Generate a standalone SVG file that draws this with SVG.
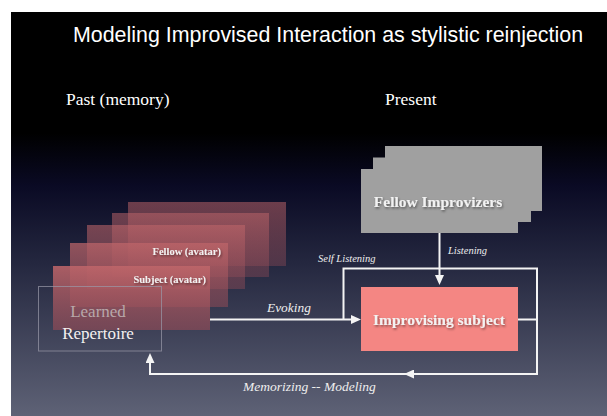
<svg xmlns="http://www.w3.org/2000/svg" width="607" height="416" viewBox="0 0 607 416">
<defs>
<linearGradient id="bg" x1="0" y1="0" x2="0" y2="1">
<stop offset="0" stop-color="#000000"/>
<stop offset="0.3" stop-color="#000000"/>
<stop offset="0.43" stop-color="#0a0a24"/>
<stop offset="0.62" stop-color="#24273f"/>
<stop offset="1" stop-color="#5e6276"/>
</linearGradient>
<linearGradient id="red" x1="0" y1="0" x2="0" y2="1">
<stop offset="0" stop-color="#c0666a" stop-opacity="0.95"/>
<stop offset="1" stop-color="#8e4a56" stop-opacity="0.75"/>
</linearGradient>
<filter id="sh" x="-10%" y="-30%" width="120%" height="160%">
<feDropShadow dx="1" dy="1.5" stdDeviation="1" flood-color="#000" flood-opacity="0.45"/>
</filter>
<marker id="arr" markerUnits="userSpaceOnUse" markerWidth="10" markerHeight="9" refX="7" refY="4.5" orient="auto">
<path d="M0,0 L10,4.5 L0,9 z" fill="#f4f4f4"/>
</marker>
<style>
.ln{fill:none;stroke:#f4f4f4;stroke-width:2}
.lbl{font-family:"Liberation Serif","Times New Roman",serif;font-style:italic;fill:#eeeeee}
.rl{fill:url(#red)}
.gr{fill:#a0a0a0}
.bold{font-family:"Liberation Serif","Times New Roman",serif;font-weight:bold;fill:#f2f2f2}
.head{font-family:"Liberation Serif","Times New Roman",serif;fill:#ffffff;font-size:17.5px}
</style>
</defs>
<rect x="0" y="0" width="607" height="416" fill="#ffffff"/>
<rect x="11" y="12" width="596" height="404" fill="url(#bg)"/>
<text x="73" y="42" font-family="Liberation Sans, Arial, sans-serif" font-size="21.4" fill="#ffffff">Modeling Improvised Interaction as stylistic reinjection</text>
<text class="head" x="66" y="105">Past (memory)</text>
<text class="head" x="385" y="105">Present</text>

<g id="memory-stack">
<rect class="rl" x="128" y="202" width="158" height="64" opacity="0.55"/>
<rect class="rl" x="112" y="213" width="157" height="64" opacity="0.55"/>
<rect class="rl" x="87" y="225" width="158" height="64" opacity="0.6"/>
<rect class="rl" x="70" y="243" width="158" height="64" opacity="0.75"/>
<rect class="rl" x="53" y="266" width="157" height="64" opacity="0.9"/>
<text class="bold" x="221" y="255" font-size="10.5" text-anchor="end" filter="url(#sh)">Fellow (avatar)</text>
<text class="bold" x="206" y="282.5" font-size="10.5" text-anchor="end" filter="url(#sh)">Subject (avatar)</text>
</g>

<g id="learned-repertoire">
<rect x="38.5" y="286.5" width="123" height="64.5" fill="none" stroke="#9a9aaa" stroke-opacity="0.7" stroke-width="1"/>
<text x="98" y="317" font-family="Liberation Serif, Times New Roman, serif" font-size="17" text-anchor="middle" fill="#b8a8aa">Learned</text>
<text x="98" y="338.5" font-family="Liberation Serif, Times New Roman, serif" font-size="17" text-anchor="middle" fill="#f4f0f0">Repertoire</text>
</g>

<g id="fellow-improvizers">
<rect class="gr" x="385" y="146" width="157" height="65"/>
<rect class="gr" x="373" y="157.5" width="158" height="64.5"/>
<rect class="gr" x="361" y="169" width="157" height="64"/>
<text class="bold" x="438" y="207" font-size="15.5" text-anchor="middle" fill="#ececec" filter="url(#sh)">Fellow Improvizers</text>
</g>

<g id="improvising-subject">
<rect x="361" y="287" width="157" height="64" fill="#f48683"/>
<text class="bold" x="439" y="325" font-size="15.5" text-anchor="middle" filter="url(#sh)">Improvising subject</text>
</g>

<g id="connectors">
<path class="ln" d="M439.5 233 V282" marker-end="url(#arr)"/>
<path class="ln" d="M210 319.5 H358" marker-end="url(#arr)"/>
<path class="ln" d="M518 319.5 H537 V268.5 H343.5 V319.5"/>
<path class="ln" d="M537 319.5 V374 H407" marker-end="url(#arr)"/>
<path class="ln" d="M408 374 H150 V356" marker-end="url(#arr)"/>
<text class="lbl" x="448" y="253.5" font-size="10.5">Listening</text>
<text class="lbl" x="318" y="262" font-size="10.5">Self Listening</text>
<text class="lbl" x="267" y="312" font-size="13.4">Evoking</text>
<text class="lbl" x="243" y="390.5" font-size="13.5">Memorizing -- Modeling</text>
</g>
</svg>
